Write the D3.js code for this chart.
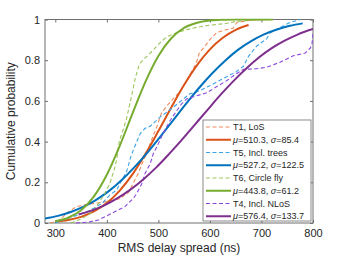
<!DOCTYPE html>
<html>
<head>
<meta charset="utf-8">
<script src="https://cdn.jsdelivr.net/npm/d3@7"></script>
<style>
  body { margin: 0; background: #fff; }
  svg text { font-family: "Liberation Sans", Arial, sans-serif; fill: #262626; }
</style>
</head>
<body>
<div id="chart"></div>
<script>
const t1LoS = [[290,0],[305,0.01],[315,0.03],[325,0.055],[341,0.08],[357,0.09],[377,0.097],[400,0.105],[425,0.12],[442,0.15],[451,0.195],[461,0.244],[468,0.29],[477,0.34],[484,0.39],[490,0.43],[497,0.473],[506,0.54],[518,0.58],[532,0.62],[542,0.645],[555,0.70],[568,0.76],[574,0.79],[580,0.84],[590,0.865],[596,0.89],[603,0.91],[613,0.935],[626,0.947],[645,0.957],[652,0.985],[675,0.995],[700,1.0]];
const t5Trees = [[300,0],[320,0.02],[345,0.04],[365,0.06],[380,0.08],[392,0.1],[406,0.138],[419,0.162],[429,0.21],[438,0.25],[447,0.33],[458,0.40],[465,0.44],[474,0.465],[484,0.475],[503,0.52],[522,0.555],[542,0.596],[561,0.635],[580,0.65],[600,0.675],[626,0.71],[652,0.745],[665,0.77],[675,0.82],[691,0.87],[710,0.905],[717,0.935],[736,0.96],[755,0.985],[775,1.0]];
const t6Circle = [[330,0],[350,0.02],[370,0.05],[385,0.1],[396,0.146],[406,0.195],[414,0.26],[419,0.31],[424,0.40],[433,0.47],[438,0.51],[448,0.625],[455,0.71],[463,0.78],[474,0.81],[488,0.845],[503,0.885],[516,0.915],[535,0.935],[555,0.95],[575,0.962],[600,0.972],[630,0.98],[650,0.99],[680,0.997],[720,1.0]];
const t4NLoS = [[340,0],[365,0.005],[384,0.015],[403,0.039],[422,0.064],[435,0.08],[451,0.12],[458,0.145],[468,0.194],[474,0.243],[484,0.29],[490,0.34],[500,0.39],[509,0.44],[522,0.5],[535,0.55],[545,0.585],[555,0.61],[574,0.625],[594,0.64],[613,0.67],[633,0.70],[652,0.735],[665,0.755],[690,0.758],[710,0.765],[736,0.79],[762,0.822],[785,0.835],[795,0.86],[798,0.88],[800,0.93]];

// Fitted normal CDFs, values sampled off the figure
const fitT1 = [[300,0.007],[325,0.015],[350,0.030],[375,0.057],[400,0.098],[425,0.159],[450,0.240],[475,0.340],[500,0.452],[525,0.568],[550,0.679],[575,0.776],[600,0.853],[625,0.910],[650,0.949],[675,0.973]];
const fitT5 = [[280,0.022],[305,0.035],[330,0.054],[355,0.080],[380,0.115],[405,0.159],[430,0.214],[455,0.278],[480,0.350],[505,0.428],[530,0.509],[555,0.590],[580,0.667],[605,0.737],[630,0.799],[655,0.852],[680,0.894],[705,0.927],[730,0.951],[755,0.969],[780,0.981]];
const fitT6 = [[300,0.009],[325,0.026],[350,0.063],[375,0.131],[400,0.237],[425,0.379],[450,0.540],[475,0.695],[500,0.821],[525,0.908],[550,0.959],[575,0.984],[600,0.995],[625,0.9985],[650,0.9996],[675,0.9999],[700,1.0],[722,1.0]];
const fitT4 = [[345,0.042],[370,0.061],[395,0.087],[420,0.121],[445,0.163],[470,0.213],[495,0.271],[520,0.337],[545,0.407],[570,0.481],[595,0.555],[620,0.628],[645,0.696],[670,0.758],[695,0.813],[720,0.859],[745,0.896],[770,0.926],[800,0.953]];

const xTicks = [300, 400, 500, 600, 700, 800];
const yTicks = [0, 0.2, 0.4, 0.6, 0.8, 1];
const yTickLabels = ["0", "0.2", "0.4", "0.6", "0.8", "1"];

const series = [
  { name: "T1, LoS", data: t1LoS, color: "#F08C5E", dash: "4,2.5", width: 1.1 },
  { fit: [510.3, 85.4], data: fitT1, color: "#D95319", dash: null, width: 2 },
  { name: "T5, Incl. trees", data: t5Trees, color: "#3BA3E6", dash: "4,2.5", width: 1.1 },
  { fit: [527.2, 122.5], data: fitT5, color: "#0072BD", dash: null, width: 2 },
  { name: "T6, Circle fly", data: t6Circle, color: "#9CC55C", dash: "4,2.5", width: 1.1 },
  { fit: [443.8, 61.2], data: fitT6, color: "#77AC30", dash: null, width: 2 },
  { name: "T4, Incl. NLoS", data: t4NLoS, color: "#8A46DC", dash: "4,2.5", width: 1.1 },
  { fit: [576.4, 133.7], data: fitT4, color: "#7E2F8E", dash: null, width: 2 }
];

const W = 346, H = 260;
const m = { left: 45, right: 33, top: 19.5, bottom: 37 };

const svg = d3.select("#chart").append("svg")
  .attr("width", W).attr("height", H);

const x = d3.scaleLinear().domain([280, 800]).range([m.left, W - m.right]);
const y = d3.scaleLinear().domain([0, 1]).range([H - m.bottom, m.top]);

svg.append("defs").append("clipPath").attr("id", "clip")
  .append("rect")
  .attr("x", m.left).attr("y", m.top - 1)
  .attr("width", x(800) - m.left).attr("height", y(0) - m.top + 2);

// axes with inward ticks on all sides
const axisColor = "#6e6e6e";
function styleAxis(g) {
  g.select(".domain").remove();
  g.selectAll("line").attr("stroke", axisColor);
  g.selectAll("text").attr("font-size", 11).attr("fill", "#262626");
}
svg.append("g").attr("transform", `translate(0,${y(0)})`)
  .call(d3.axisBottom(x).tickValues(xTicks).tickSizeInner(-3).tickSizeOuter(0).tickPadding(6))
  .call(styleAxis);
svg.append("g").attr("transform", `translate(0,${y(1)})`)
  .call(d3.axisTop(x).tickValues(xTicks).tickSizeInner(-3).tickSizeOuter(0).tickFormat(""))
  .call(styleAxis);
svg.append("g").attr("transform", `translate(${m.left},0)`)
  .call(d3.axisLeft(y).tickValues(yTicks).tickFormat((d, i) => yTickLabels[i]).tickSizeInner(-3).tickSizeOuter(0).tickPadding(5))
  .call(styleAxis);
svg.append("g").attr("transform", `translate(${x(800)},0)`)
  .call(d3.axisRight(y).tickValues(yTicks).tickSizeInner(-3).tickSizeOuter(0).tickFormat(""))
  .call(styleAxis);

svg.append("rect")
  .attr("x", m.left).attr("y", m.top)
  .attr("width", x(800) - m.left).attr("height", y(0) - m.top)
  .attr("fill", "none").attr("stroke", axisColor).attr("stroke-width", 1);

const lineLin = d3.line().x(d => x(d[0])).y(d => y(d[1]));
const lineSmooth = d3.line().x(d => x(d[0])).y(d => y(d[1])).curve(d3.curveMonotoneX);

const plot = svg.append("g").attr("clip-path", "url(#clip)");
series.forEach(s => {
  plot.append("path")
    .attr("d", s.dash ? lineLin(s.data) : lineSmooth(s.data))
    .attr("fill", "none")
    .attr("stroke", s.color)
    .attr("stroke-width", s.width)
    .attr("stroke-dasharray", s.dash)
    .attr("stroke-linejoin", "round");
});

// legend
const lg = svg.append("g");
const lx = 203, ly = 120, lw = 108, lh = 101, rowH = 12.75;
lg.append("rect").attr("x", lx).attr("y", ly).attr("width", lw).attr("height", lh)
  .attr("fill", "#fff").attr("stroke", axisColor).attr("stroke-width", 0.8);
series.forEach((s, i) => {
  const cy = ly + 7 + i * rowH;
  lg.append("line")
    .attr("x1", lx + 3).attr("x2", lx + 28).attr("y1", cy).attr("y2", cy)
    .attr("stroke", s.color).attr("stroke-width", s.width)
    .attr("stroke-dasharray", s.dash);
  const t = lg.append("text").attr("x", lx + 30).attr("y", cy + 3.2).attr("font-size", 9);
  if (s.name) {
    t.text(s.name);
  } else {
    t.append("tspan").attr("font-style", "italic").text("\u03BC");
    t.append("tspan").text("=" + s.fit[0].toFixed(1) + ", ");
    t.append("tspan").attr("font-style", "italic").text("\u03C3");
    t.append("tspan").text("=" + s.fit[1].toFixed(1));
  }
});

// axis labels
svg.append("text")
  .attr("x", (m.left + x(800)) / 2).attr("y", 252)
  .attr("text-anchor", "middle").attr("font-size", 12)
  .text("RMS delay spread (ns)");
svg.append("text")
  .attr("transform", `translate(15,${(m.top + y(0)) / 2}) rotate(-90)`)
  .attr("text-anchor", "middle").attr("font-size", 12)
  .text("Cumulative probability");
</script>
</body>
</html>
